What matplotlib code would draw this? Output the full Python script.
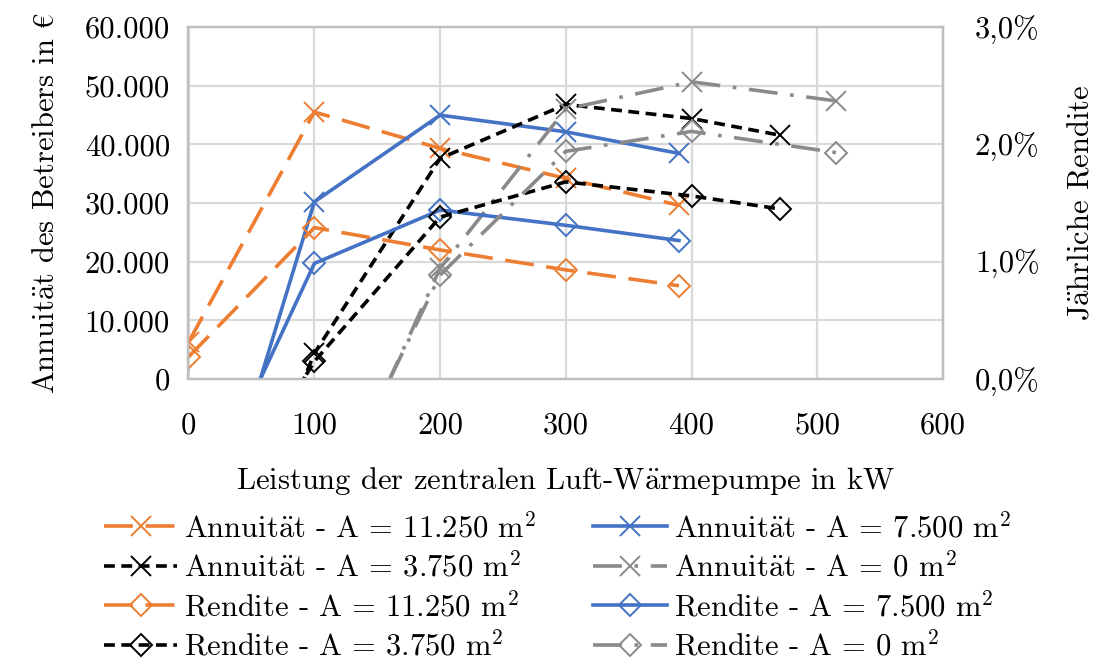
import matplotlib
matplotlib.use("Agg")
import matplotlib.pyplot as plt
from matplotlib.ticker import FuncFormatter

plt.rcParams['font.family'] = ['cmr10', 'DejaVu Serif']
plt.rcParams['mathtext.fontset'] = 'cm'
plt.rcParams['axes.unicode_minus'] = False

# Leistung (kW) and values per area
x_11250 = [0, 100, 200, 300, 390]
ann_11250 = [6300, 45500, 39300, 34200, 29600]
ren_11250 = [0.19, 1.29, 1.10, 0.93, 0.795]

x_7500 = [0, 100, 200, 300, 390]
ann_7500 = [-40000, 30200, 44970, 42130, 38450]
ren_7500 = [-1.31, 0.985, 1.44, 1.31, 1.18]

x_3750 = [0, 100, 200, 300, 400, 470]
ann_3750 = [-47800, 4380, 37600, 46800, 44400, 41570]
ren_3750 = [-1.6, 0.15, 1.38, 1.68, 1.56, 1.45]

x_0 = [100, 200, 300, 400, 515]
ann_0 = [-28300, 18900, 46000, 50650, 47400]
ren_0 = [-1.33, 0.886, 1.94, 2.11, 1.93]

orange = '#ED7D31'
blue = '#4472C4'
black = '#000000'
gray = '#8a8a8a'


def tex(s):
    # cmr10 has no umlauts / superscripts / euro sign, go through mathtext
    return (s.replace('ä', r'$\ddot{\mathrm{a}}$')
             .replace('²', r'$^{2}$')
             .replace('€', '$€$'))


fs = 22
fig = plt.figure(figsize=(10.97, 6.66), dpi=100)
ax = fig.add_axes([0.1714, 0.4309, 0.6882, 0.5286])
ax2 = ax.twinx()

lw = 2.6
sty = {
    '11250': dict(color=orange, dashes=(8, 3.5)),
    '7500': dict(color=blue),
    '3750': dict(color=black, dashes=(3, 1.8)),
    '0': dict(color=gray, dashes=(8, 3.5, 1, 3.5)),
}

h = {}
for key, xs, ys in [('11250', x_11250, ann_11250), ('7500', x_7500, ann_7500),
                    ('3750', x_3750, ann_3750), ('0', x_0, ann_0)]:
    lbl = 'Annuität - A = %s m²' % ('{:,}'.format(int(key)).replace(',', '.'))
    h['a' + key], = ax.plot(xs, ys, lw=lw, marker='x', ms=15, mew=1.4, label=tex(lbl), **sty[key])

for key, xs, ys in [('11250', x_11250, ren_11250), ('7500', x_7500, ren_7500),
                    ('3750', x_3750, ren_3750), ('0', x_0, ren_0)]:
    lbl = 'Rendite - A = %s m²' % ('{:,}'.format(int(key)).replace(',', '.'))
    h['r' + key], = ax2.plot(xs, [v / 100 for v in ys], lw=lw, marker='D', ms=11,
                             mfc='none', mew=1.4, label=tex(lbl), **sty[key])

ax.set_xlim(-0.5, 600)
ax.set_ylim(0, 60000)
ax2.set_ylim(0, 0.03)
ax.set_xticks(range(0, 601, 100))
ax.set_yticks(range(0, 60001, 10000))
ax2.set_yticks([0, 0.01, 0.02, 0.03])
ax.yaxis.set_major_formatter(FuncFormatter(lambda v, p: '{:,}'.format(int(v)).replace(',', '.')))
ax2.yaxis.set_major_formatter(FuncFormatter(lambda v, p: ('%.1f%%' % (v * 100)).replace('.', ',')))

ax.grid(True, color='#d9d9d9', lw=1.6)
ax.set_axisbelow(True)
for a in (ax, ax2):
    for s in a.spines.values():
        s.set_color('#bfbfbf')
        s.set_linewidth(1.6)
    a.tick_params(length=0, labelsize=fs)
ax.tick_params(axis='x', pad=24)
ax.tick_params(axis='y', pad=13)
ax2.tick_params(axis='y', pad=23)

ax.set_xlabel(tex('Leistung der zentralen Luft-Wärmepumpe in kW'), fontsize=fs, labelpad=18)
ax.set_ylabel(tex('Annuität des Betreibers in €'), fontsize=fs, labelpad=18)
ax2.set_ylabel(tex('Jährliche Rendite'), fontsize=fs, labelpad=20)

order = ['a11250', 'a3750', 'r11250', 'r3750', 'a7500', 'a0', 'r7500', 'r0']
fig.legend([h[k] for k in order], [h[k].get_label() for k in order],
           loc='upper center', bbox_to_anchor=(0.508, 0.25), ncol=2, frameon=False,
           fontsize=22, handlelength=2.4, handletextpad=0.23, columnspacing=1.85,
           labelspacing=0.28, borderaxespad=0)

fig.savefig('out.png', dpi=100)
